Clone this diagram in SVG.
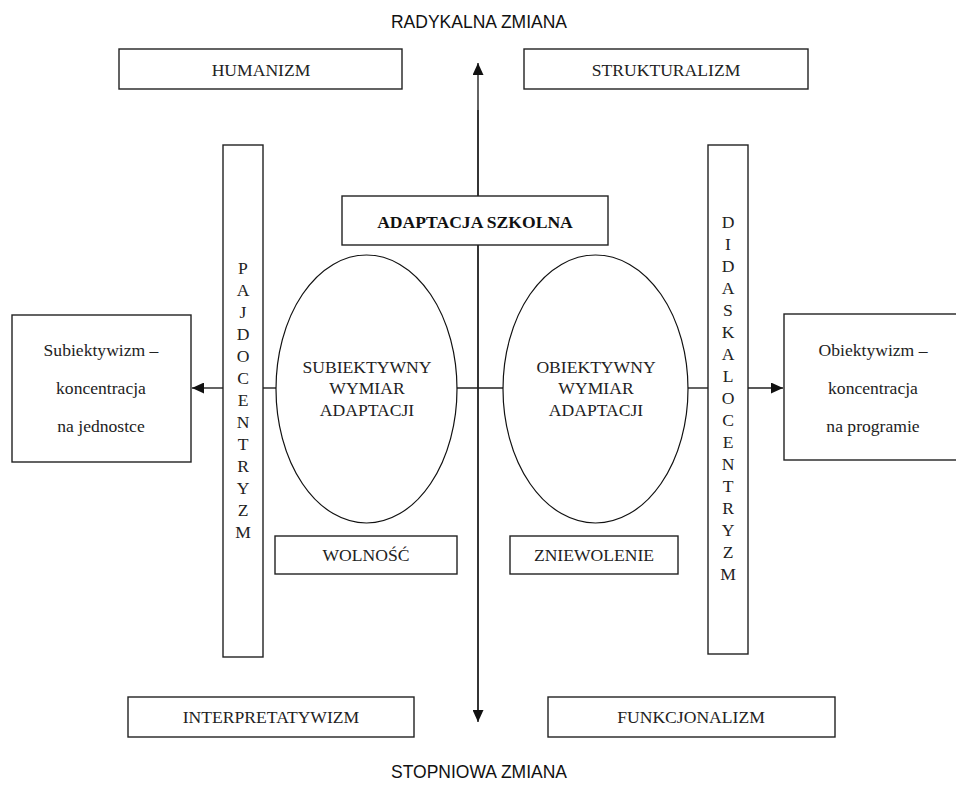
<svg xmlns="http://www.w3.org/2000/svg" width="956" height="789" viewBox="0 0 956 789">
<style>
.box{fill:#fff;stroke:#222;stroke-width:1.4}
.ell{fill:#fff;stroke:#111;stroke-width:1.2}
.ln{fill:none;stroke:#222;stroke-width:1.4}
.t{font-family:"Liberation Serif","Times New Roman",serif;font-size:17.6px;fill:#222;text-anchor:middle}
.b{font-weight:bold;fill:#111}
.s{font-family:"Liberation Sans",Arial,sans-serif;font-size:17.5px;fill:#111;text-anchor:middle}
</style>
<defs>
<marker id="ah" markerUnits="userSpaceOnUse" markerWidth="13" markerHeight="11" refX="12" refY="5.5" orient="auto">
<path d="M0,0 L12,5.5 L0,11 Z" fill="#111"/>
</marker>
</defs>
<rect width="956" height="789" fill="#fff"/>
<text class="s" x="479" y="28">RADYKALNA ZMIANA</text>
<text class="s" x="479" y="778">STOPNIOWA ZMIANA</text>
<g id="connectors">
<line class="ln" x1="478" y1="710" x2="478" y2="63" marker-end="url(#ah)"/>
<line class="ln" x1="478" y1="110" x2="478" y2="722" marker-end="url(#ah)"/>
<line class="ln" x1="223" y1="388" x2="192" y2="388" marker-end="url(#ah)"/>
<line class="ln" x1="263" y1="388" x2="277" y2="388"/>
<line class="ln" x1="456" y1="388" x2="504" y2="388"/>
<line class="ln" x1="687" y1="388" x2="709" y2="388"/>
<line class="ln" x1="747" y1="388" x2="783" y2="388" marker-end="url(#ah)"/>
</g>
<g id="humanizm"><rect class="box" x="119" y="49" width="283" height="40"/><text class="t" x="261" y="76">HUMANIZM</text></g>
<g id="strukturalizm"><rect class="box" x="524" y="49" width="284" height="40"/><text class="t" x="666" y="76">STRUKTURALIZM</text></g>
<g id="interpretatywizm"><rect class="box" x="128" y="697" width="286" height="40"/><text class="t" x="271" y="723">INTERPRETATYWIZM</text></g>
<g id="funkcjonalizm"><rect class="box" x="548" y="697" width="287" height="40"/><text class="t" x="691" y="723">FUNKCJONALIZM</text></g>
<g id="adaptacja"><rect class="box" x="342" y="196" width="266" height="49"/><text class="t b" x="475" y="228">ADAPTACJA SZKOLNA</text></g>
<g id="pajdocentryzm"><rect class="box" x="223" y="145" width="40" height="512"/>
<text class="t" x="243" y="274">P</text><text class="t" x="243" y="296">A</text><text class="t" x="243" y="318">J</text><text class="t" x="243" y="340">D</text><text class="t" x="243" y="362">O</text><text class="t" x="243" y="384">C</text><text class="t" x="243" y="406">E</text><text class="t" x="243" y="428">N</text><text class="t" x="243" y="450">T</text><text class="t" x="243" y="472">R</text><text class="t" x="243" y="494">Y</text><text class="t" x="243" y="516">Z</text><text class="t" x="243" y="538">M</text>
</g>
<g id="didaskalocentryzm"><rect class="box" x="708" y="145" width="40" height="509"/>
<text class="t" x="728" y="228">D</text><text class="t" x="728" y="250">I</text><text class="t" x="728" y="272">D</text><text class="t" x="728" y="294">A</text><text class="t" x="728" y="316">S</text><text class="t" x="728" y="338">K</text><text class="t" x="728" y="360">A</text><text class="t" x="728" y="382">L</text><text class="t" x="728" y="404">O</text><text class="t" x="728" y="426">C</text><text class="t" x="728" y="448">E</text><text class="t" x="728" y="470">N</text><text class="t" x="728" y="492">T</text><text class="t" x="728" y="514">R</text><text class="t" x="728" y="536">Y</text><text class="t" x="728" y="558">Z</text><text class="t" x="728" y="580">M</text>
</g>
<g id="subiektywny"><ellipse class="ell" cx="366.5" cy="389" rx="90.5" ry="134"/>
<text class="t" x="367" y="373">SUBIEKTYWNY</text><text class="t" x="367" y="394">WYMIAR</text><text class="t" x="367" y="416">ADAPTACJI</text></g>
<g id="obiektywny"><ellipse class="ell" cx="595.5" cy="389" rx="92.5" ry="134"/>
<text class="t" x="596" y="373">OBIEKTYWNY</text><text class="t" x="596" y="394">WYMIAR</text><text class="t" x="596" y="416">ADAPTACJI</text></g>
<g id="wolnosc"><rect class="box" x="275" y="536" width="182" height="38"/><text class="t" x="366" y="561">WOLNOŚĆ</text></g>
<g id="zniewolenie"><rect class="box" x="510" y="536" width="168" height="38"/><text class="t" x="594" y="561">ZNIEWOLENIE</text></g>
<g id="subiektywizm"><rect class="box" x="12" y="315" width="179" height="147"/>
<text class="t" x="101" y="356">Subiektywizm –</text><text class="t" x="101" y="394">koncentracja</text><text class="t" x="101" y="432">na jednostce</text></g>
<g id="obiektywizm"><rect class="box" x="784" y="314" width="180" height="146"/>
<text class="t" x="873" y="356">Obiektywizm –</text><text class="t" x="873" y="394">koncentracja</text><text class="t" x="873" y="432">na programie</text></g>
</svg>
